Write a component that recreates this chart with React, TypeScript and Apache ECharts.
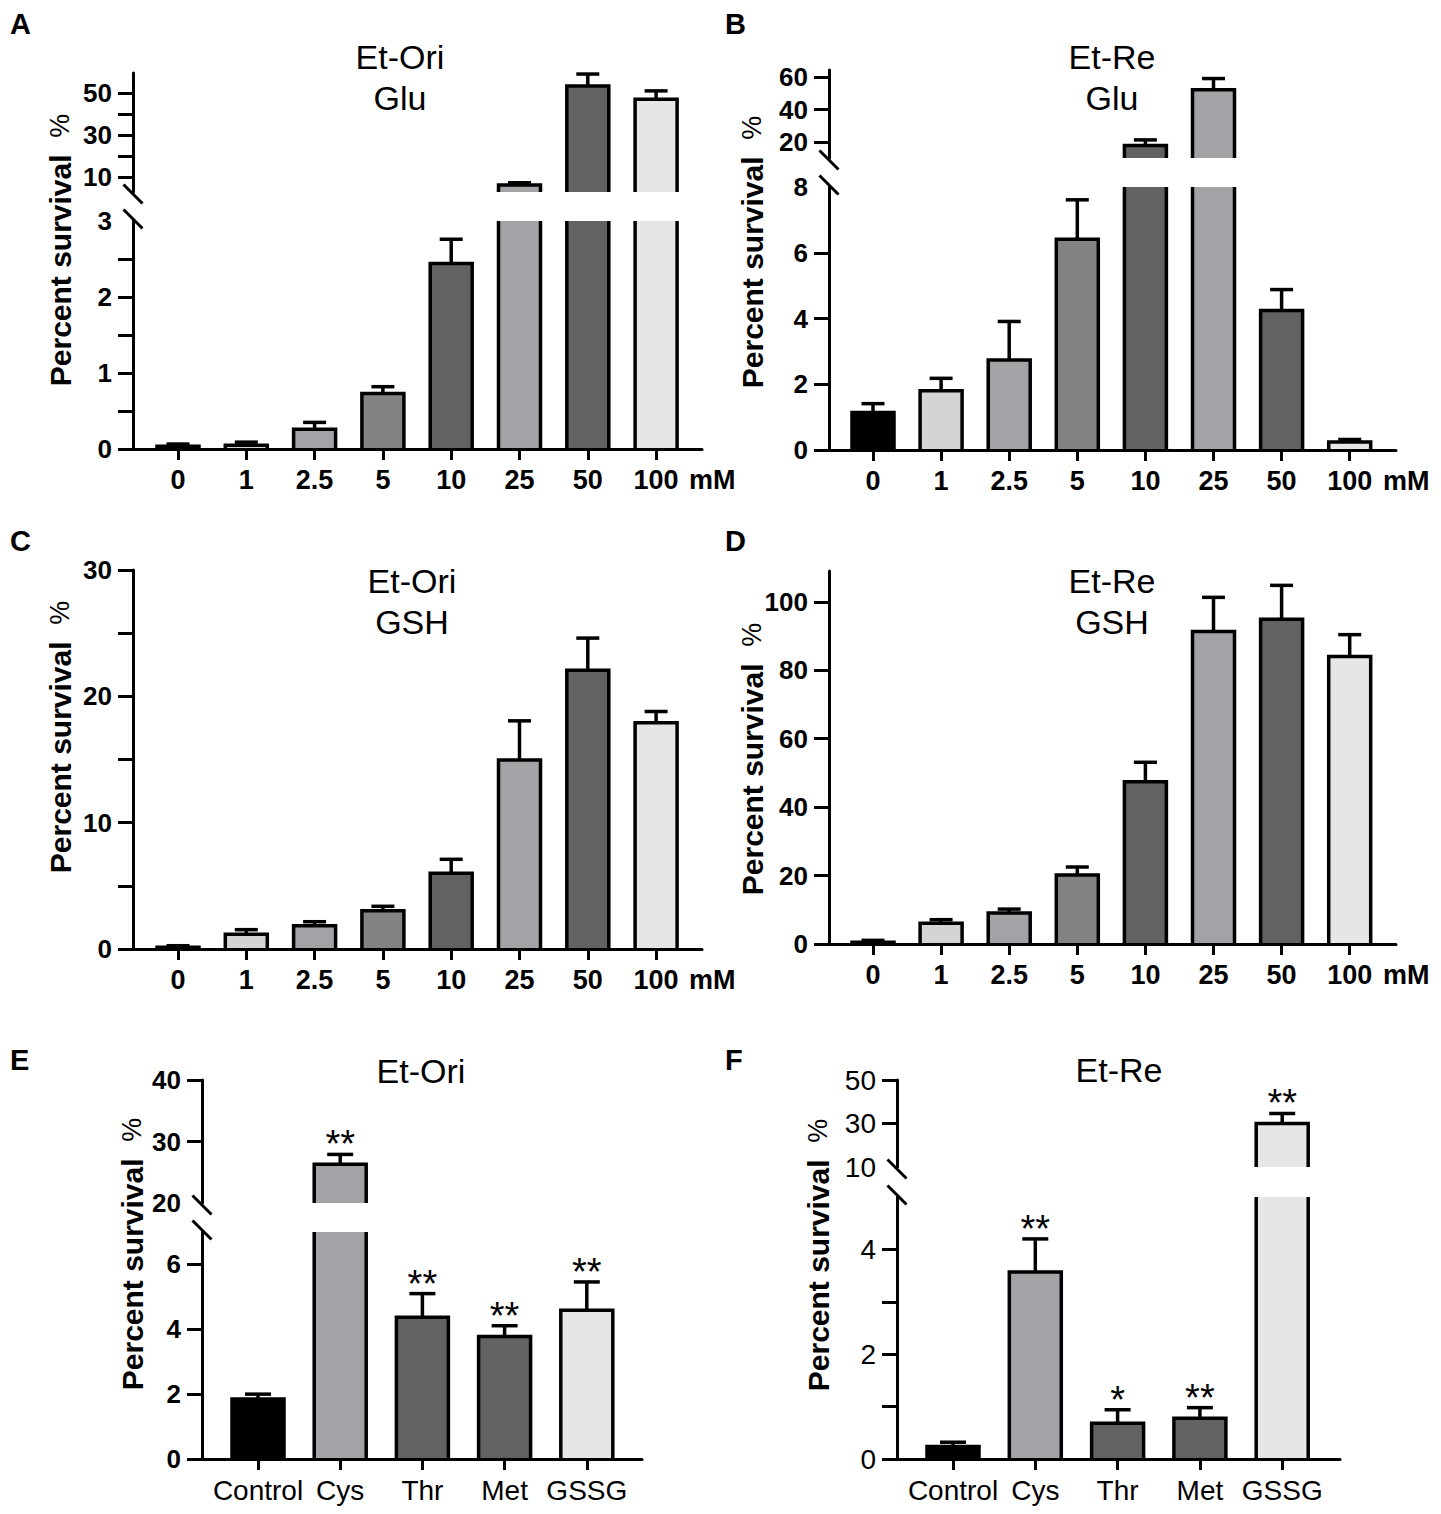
import React, { useEffect, useRef } from 'react';
import * as echarts from 'echarts';

// ---------------- data ----------------
const concCategories = ['0', '1', '2.5', '5', '10', '25', '50', '100'];
const aminoCategories = ['Control', 'Cys', 'Thr', 'Met', 'GSSG'];

const concColors = ['#000000', '#d4d4d4', '#a3a3a7', '#838383', '#626262', '#a3a3a7', '#626262', '#e6e6e6'];
const aminoColors = ['#000000', '#a3a3a7', '#626262', '#626262', '#e6e6e6'];

// Panel A: Et-Ori, Glu
const aMeans = [0.035, 0.05, 0.26, 0.73, 2.44, 6.2, 53.3, 47.0];
const aErrs = [0.03, 0.04, 0.09, 0.09, 0.32, 1.1, 5.7, 4.0];
// Panel B: Et-Re, Glu
const bMeans = [1.14, 1.8, 2.74, 6.41, 17.8, 52.3, 4.24, 0.24];
const bErrs = [0.27, 0.38, 1.17, 1.2, 3.4, 6.9, 0.64, 0.08];
// Panel C: Et-Ori, GSH
const cMeans = [0.13, 1.16, 1.85, 3.03, 6.0, 14.96, 22.06, 17.9];
const cErrs = [0.13, 0.37, 0.31, 0.35, 1.1, 3.1, 2.55, 0.9];
// Panel D: Et-Re, GSH
const dMeans = [0.5, 6.1, 9.05, 20.2, 47.4, 91.3, 94.9, 84.0];
const dErrs = [0.57, 1.0, 1.15, 2.3, 5.7, 10.0, 9.9, 6.4];
// Panel E: Et-Ori amino acids
const eMeans = [1.85, 26.3, 4.37, 3.78, 4.59];
const eErrs = [0.15, 1.6, 0.73, 0.33, 0.87];
const eStars = ['', '**', '**', '**', '**'];
// Panel F: Et-Re amino acids
const fMeans = [0.24, 3.57, 0.68, 0.78, 30.0];
const fErrs = [0.08, 0.63, 0.26, 0.2, 4.6];
const fStars = ['', '**', '*', '**', '**'];

// axis ticks / labels
const aLowerTicks = [0, 0.5, 1, 1.5, 2, 2.5];
const aLowerLabels = [0, 1, 2, 3];
const aUpperTicks = [10, 20, 30, 40, 50];
const aUpperLabels = [10, 30, 50];
const bLowerTicks = [0, 2, 4, 6];
const bLowerLabels = [0, 2, 4, 6, 8];
const bUpperTicks = [20, 40, 60];
const bUpperLabels = [20, 40, 60];
const cTicks = [0, 5, 10, 15, 20, 25, 30];
const cLabels = [0, 10, 20, 30];
const dTicks = [0, 20, 40, 60, 80, 100];
const dLabels = [0, 20, 40, 60, 80, 100];
const eLowerTicks = [0, 2, 4, 6];
const eLowerLabels = [0, 2, 4, 6];
const eUpperTicks = [30, 40];
const eUpperLabels = [20, 30, 40];
const fLowerTicks = [0, 1, 2, 3, 4];
const fLowerLabels = [0, 2, 4];
const fUpperTicks = [30, 50];
const fUpperLabels = [10, 30, 50];

// ---------------- layout ----------------
const FONT = '"Liberation Sans", Arial, Helvetica, sans-serif';

type Seg = { top: number; bottom: number; min: number; max: number; ticks: number[]; labels: number[] };
type Panel = {
  cats: string[]; colors: string[]; means: number[]; errs: number[]; stars?: string[];
  axisX: number; xEnd: number; cat0: number; step: number;
  lower: Seg; upper?: Seg;
  barW: number; cap: number;
  catSize: number; catWeight: string; ySize: number; yWeight: string; unit?: string;
  title: string; titleX: number; titleY: number;
  letter: string; letterX: number; letterY: number; nameX: number; nameY: number;
};

const panels: Panel[] = [
  {
    cats: concCategories, colors: concColors, means: aMeans, errs: aErrs,
    axisX: 133, xEnd: 702, cat0: 178, step: 68.3,
    lower: { top: 221, bottom: 449, min: 0, max: 3, ticks: aLowerTicks, labels: aLowerLabels },
    upper: { top: 73, bottom: 192, min: 2.9, max: 59.5, ticks: aUpperTicks, labels: aUpperLabels },
    barW: 42, cap: 11.5, catSize: 27, catWeight: 'bold', ySize: 26, yWeight: 'bold', unit: 'mM',
    title: 'Et-Ori\nGlu', titleX: 400, titleY: 77, letter: 'A', letterX: 10, letterY: 9, nameX: 60, nameY: 250,
  },
  {
    cats: concCategories, colors: concColors, means: bMeans, errs: bErrs,
    axisX: 829, xEnd: 1396, cat0: 873, step: 68.1,
    lower: { top: 187, bottom: 450, min: 0, max: 8, ticks: bLowerTicks, labels: bLowerLabels },
    upper: { top: 70, bottom: 158, min: 10, max: 64.5, ticks: bUpperTicks, labels: bUpperLabels },
    barW: 42, cap: 11.5, catSize: 27, catWeight: 'bold', ySize: 26, yWeight: 'bold', unit: 'mM',
    title: 'Et-Re\nGlu', titleX: 1112, titleY: 77, letter: 'B', letterX: 725, letterY: 9, nameX: 752, nameY: 252,
  },
  {
    cats: concCategories, colors: concColors, means: cMeans, errs: cErrs,
    axisX: 133, xEnd: 702, cat0: 178, step: 68.3,
    lower: { top: 570, bottom: 949, min: 0, max: 30, ticks: cTicks, labels: cLabels },
    barW: 42, cap: 11.5, catSize: 27, catWeight: 'bold', ySize: 26, yWeight: 'bold', unit: 'mM',
    title: 'Et-Ori\nGSH', titleX: 412, titleY: 601, letter: 'C', letterX: 10, letterY: 526, nameX: 60, nameY: 737,
  },
  {
    cats: concCategories, colors: concColors, means: dMeans, errs: dErrs,
    axisX: 829, xEnd: 1396, cat0: 873, step: 68.1,
    lower: { top: 571, bottom: 944, min: 0, max: 109, ticks: dTicks, labels: dLabels },
    barW: 42, cap: 11.5, catSize: 27, catWeight: 'bold', ySize: 26, yWeight: 'bold', unit: 'mM',
    title: 'Et-Re\nGSH', titleX: 1112, titleY: 601, letter: 'D', letterX: 725, letterY: 526, nameX: 752, nameY: 759,
  },
  {
    cats: aminoCategories, colors: aminoColors, means: eMeans, errs: eErrs, stars: eStars,
    axisX: 202, xEnd: 642, cat0: 258, step: 82.2,
    lower: { top: 1232, bottom: 1459, min: 0, max: 7, ticks: eLowerTicks, labels: eLowerLabels },
    upper: { top: 1080, bottom: 1203, min: 20, max: 40, ticks: eUpperTicks, labels: eUpperLabels },
    barW: 52, cap: 13, catSize: 28, catWeight: 'normal', ySize: 26, yWeight: 'bold',
    title: 'Et-Ori', titleX: 421, titleY: 1071, letter: 'E', letterX: 10, letterY: 1045, nameX: 132, nameY: 1254,
  },
  {
    cats: aminoCategories, colors: aminoColors, means: fMeans, errs: fErrs, stars: fStars,
    axisX: 897, xEnd: 1340, cat0: 953, step: 82.3,
    lower: { top: 1197, bottom: 1459, min: 0, max: 5, ticks: fLowerTicks, labels: fLowerLabels },
    upper: { top: 1080, bottom: 1167, min: 10, max: 50, ticks: fUpperTicks, labels: fUpperLabels },
    barW: 52, cap: 13, catSize: 28, catWeight: 'normal', ySize: 28, yWeight: 'normal',
    title: 'Et-Re', titleX: 1119, titleY: 1070, letter: 'F', letterX: 725, letterY: 1045, nameX: 818, nameY: 1255,
  },
];

function makeRender(p: Panel) {
  return (params: any, api: any) => {
    const i = params.dataIndex;
    const cs = params.coordSys;
    const xv = api.value(0);
    const m = api.value(1);
    const t = api.value(2);
    const pTop = api.coord([xv, m]);
    const pBase = api.coord([xv, 0]);
    const pErr = api.coord([xv, t]);
    const yMin = cs.y;
    const yMax = cs.y + cs.height;
    const cx = pTop[0];
    const l = cx - p.barW / 2;
    const r = cx + p.barW / 2;
    const yTop = Math.max(pTop[1], yMin);
    const yBot = Math.min(pBase[1], yMax);
    const children: any[] = [];
    if (yTop < yBot) {
      const bw = 3.5;
      children.push({ type: 'rect', shape: { x: l, y: yTop, width: p.barW, height: yBot - yTop }, style: { fill: p.colors[i] } });
      const clipped = pTop[1] < yMin;
      if (clipped) {
        children.push({ type: 'line', shape: { x1: l, y1: yTop, x2: l, y2: yBot }, style: { stroke: '#000', lineWidth: bw } });
        children.push({ type: 'line', shape: { x1: r, y1: yTop, x2: r, y2: yBot }, style: { stroke: '#000', lineWidth: bw } });
      } else {
        children.push({ type: 'line', shape: { x1: cx, y1: yTop, x2: cx, y2: pErr[1] }, style: { stroke: '#000', lineWidth: 3.5 } });
        children.push({ type: 'line', shape: { x1: cx - p.cap, y1: pErr[1], x2: cx + p.cap, y2: pErr[1] }, style: { stroke: '#000', lineWidth: 3.5 } });
        children.push({
          type: 'polyline',
          shape: { points: [[l, yBot], [l, yTop], [r, yTop], [r, yBot]] },
          style: { stroke: '#000', lineWidth: bw, fill: 'none' },
        });
        const star = p.stars ? p.stars[i] : '';
        if (star) {
          children.push({
            type: 'text', x: cx, y: pErr[1] - 10,
            style: { text: star, fontSize: 38, fontFamily: FONT, fill: '#000', align: 'center', verticalAlign: 'middle' },
          });
        }
      }
    }
    return { type: 'group', children };
  };
}

function buildOption() {
  const grids: any[] = [];
  const xAxes: any[] = [];
  const yAxes: any[] = [];
  const series: any[] = [];
  const graphics: any[] = [];

  panels.forEach((p) => {
    const segs: Seg[] = p.upper ? [p.lower, p.upper] : [p.lower];
    const xMin = (p.axisX - p.cat0) / p.step;
    const xMax = (p.xEnd - p.cat0) / p.step;
    const idx = p.cats.map((_, i) => i);
    const data = p.cats.map((_, i) => [i, p.means[i], p.means[i] + p.errs[i]]);
    segs.forEach((seg, si) => {
      const gi = grids.length;
      const isLower = si === 0;
      grids.push({
        left: p.axisX, top: seg.top, width: p.xEnd - p.axisX, height: seg.bottom - seg.top,
        outerBoundsMode: 'none', containLabel: false,
      });
      xAxes.push({
        gridIndex: gi, type: 'value', min: xMin, max: xMax, show: isLower, z: 5,
        axisLine: { show: true, onZero: false, lineStyle: { color: '#000', width: 3 } },
        axisTick: { show: true, length: 11, customValues: idx, lineStyle: { color: '#000', width: 3 } },
        axisLabel: {
          show: true, customValues: idx, margin: 17,
          formatter: (v: number) => p.cats[Math.round(v)] ?? '',
          fontSize: p.catSize, fontWeight: p.catWeight, fontFamily: FONT, color: '#000',
        },
        splitLine: { show: false },
        name: isLower && p.unit ? p.unit : '',
        nameLocation: 'end', nameGap: -13, nameMoveOverlap: false,
        nameTextStyle: {
          fontSize: p.catSize, fontWeight: 'bold', fontFamily: FONT, color: '#000',
          verticalAlign: 'top', align: 'left', padding: [17, 0, 0, 0], lineHeight: p.catSize,
        },
      });
      yAxes.push({
        gridIndex: gi, type: 'value', min: seg.min, max: seg.max, z: 5,
        axisLine: { show: true, onZero: false, lineStyle: { color: '#000', width: 3 } },
        axisTick: { show: true, length: 15, customValues: seg.ticks, lineStyle: { color: '#000', width: 3 } },
        axisLabel: {
          show: true, customValues: seg.labels, margin: 21,
          fontSize: p.ySize, fontWeight: p.yWeight, fontFamily: FONT, color: '#000',
        },
        splitLine: { show: false },
      });
      series.push({
        type: 'custom', xAxisIndex: gi, yAxisIndex: gi, renderItem: makeRender(p),
        data, encode: { x: 0, y: [1, 2] }, z: 2, silent: true,
      });
    });

    if (p.upper) {
      const d = 9.5;
      const ys = [p.upper.bottom + 2, p.lower.top - 2];
      ys.forEach((y) => {
        graphics.push({
          type: 'line', z: 10,
          shape: { x1: p.axisX - d, y1: y - d, x2: p.axisX + d, y2: y + d },
          style: { stroke: '#000', lineWidth: 3 },
        });
      });
    }

    graphics.push({
      type: 'text', x: p.letterX, y: p.letterY,
      style: { text: p.letter, fontSize: 29, fontWeight: 'bold', fontFamily: FONT, fill: '#000', align: 'left', verticalAlign: 'top' },
    });
    graphics.push({
      type: 'text', x: p.titleX, y: p.titleY,
      style: { text: p.title, fontSize: 34, lineHeight: 41, fontFamily: FONT, fill: '#000', align: 'center', verticalAlign: 'middle' },
    });
    graphics.push({
      type: 'text', x: p.nameX, y: p.nameY, rotation: Math.PI / 2,
      style: {
        text: '{lbl|Percent survival}  {pct|%}',
        align: 'center', verticalAlign: 'middle', fill: '#000',
        fontSize: 30, fontFamily: FONT,
        rich: {
          lbl: { fontSize: 30, fontWeight: 'bold', fontFamily: FONT, fill: '#000', lineHeight: 33 },
          pct: { fontSize: 27, fontWeight: 'normal', fontFamily: FONT, fill: '#000', lineHeight: 33 },
        },
      },
    });
  });

  return {
    animation: false,
    backgroundColor: '#ffffff',
    grid: grids,
    xAxis: xAxes,
    yAxis: yAxes,
    series,
    graphic: graphics,
  };
}

export default function App() {
  const ref = useRef<HTMLDivElement>(null);
  useEffect(() => {
    if (!ref.current) return;
    const chart = echarts.init(ref.current, null, { renderer: 'svg' });
    chart.setOption(buildOption() as any);
    return () => chart.dispose();
  }, []);
  return (
    <div
      ref={ref}
      style={{ position: 'absolute', left: 0, top: 0, width: 1441, height: 1514, background: '#fff' }}
    />
  );
}
